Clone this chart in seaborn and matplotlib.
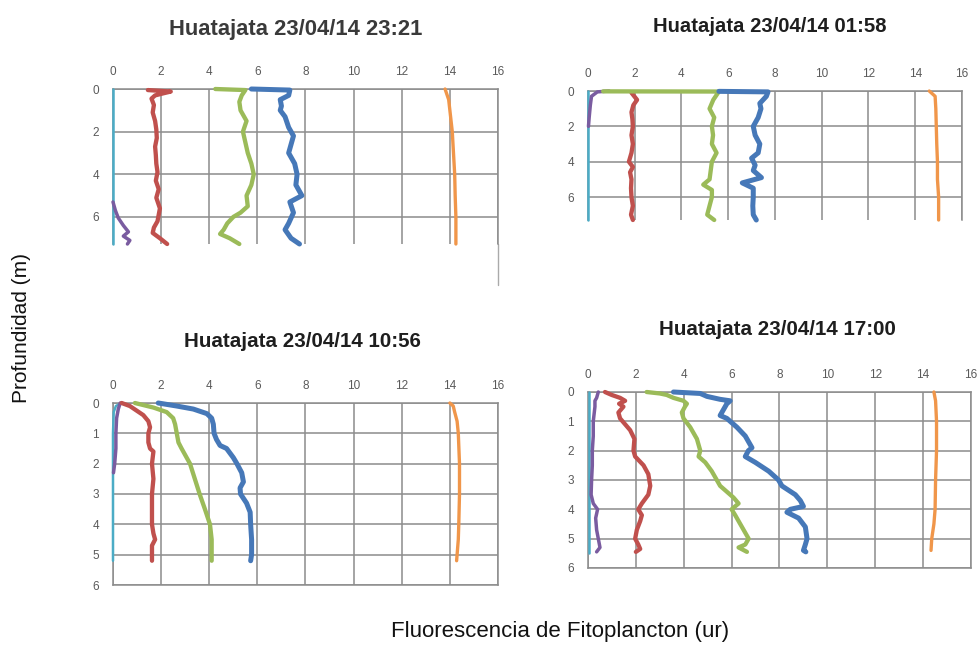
import matplotlib
matplotlib.use("Agg")
import matplotlib.pyplot as plt
import pandas as pd
import seaborn as sns

sns.set_theme(style="white")
plt.rcParams['font.family'] = ['Liberation Sans', 'DejaVu Sans']

# ---------------- Perfil 23/04/14 23:21 ----------------
p1_prof_celeste = [0.0, 7.27]
p1_celeste = [0.0, 0.0]
p1_prof_morado = [5.3, 5.7, 6.05, 6.4, 6.7, 6.9, 7.1, 7.27]
p1_morado = [0.0, 0.1, 0.22, 0.43, 0.64, 0.43, 0.7, 0.6]
p1_prof_rojo = [0.05, 0.12, 0.2, 0.3, 0.45, 0.75, 1.1, 1.5, 1.9, 2.3, 2.7, 3.1,
                3.5, 3.9, 4.3, 4.7, 5.1, 5.6, 6.2, 6.5, 6.75, 7.0, 7.27]
p1_rojo = [1.45, 2.4, 2.1, 1.75, 1.6, 1.7, 1.65, 1.75, 1.8, 1.82, 1.75, 1.78,
           1.8, 1.85, 1.78, 1.9, 1.8, 1.95, 1.85, 1.7, 1.65, 1.95, 2.25]
p1_prof_verde = [0.0, 0.05, 0.3, 0.6, 1.0, 1.5, 2.0, 2.5, 3.0, 3.5, 4.0, 4.5,
                 5.0, 5.5, 5.8, 6.0, 6.3, 6.6, 6.8, 7.0, 7.27]
p1_verde = [4.25, 5.5, 5.35, 5.25, 5.3, 5.55, 5.4, 5.5, 5.6, 5.75, 5.85, 5.75,
            5.55, 5.6, 5.3, 5.0, 4.75, 4.6, 4.45, 4.85, 5.25]
p1_prof_azul = [0.0, 0.05, 0.3, 0.5, 0.8, 1.0, 1.3, 1.8, 2.2, 2.6, 3.0, 3.5,
                4.0, 4.5, 5.0, 5.3, 5.8, 6.3, 6.6, 7.0, 7.27]
p1_azul = [5.75, 7.35, 7.3, 6.95, 7.0, 6.95, 7.15, 7.3, 7.5, 7.4, 7.3, 7.55,
           7.65, 7.6, 7.85, 7.35, 7.5, 7.3, 7.15, 7.4, 7.75]
p1_prof_naranja = [0.0, 0.5, 1.0, 2.0, 3.0, 4.0, 5.0, 6.0, 7.27]
p1_naranja = [13.8, 13.95, 14.0, 14.1, 14.15, 14.2, 14.22, 14.25, 14.25]

# ---------------- Perfil 23/04/14 01:58 ----------------
p2_prof_celeste = [0.0, 7.3]
p2_celeste = [0.0, 0.0]
p2_prof_morado = [0.0, 0.05, 0.3, 0.8, 1.5, 2.0]
p2_morado = [0.9, 0.4, 0.15, 0.1, 0.05, 0.02]
p2_prof_rojo = [0.1, 0.5, 0.8, 1.2, 1.6, 2.0, 2.5, 3.0, 3.5, 4.0, 4.3, 4.6,
                5.0, 5.5, 6.0, 6.5, 7.0, 7.3]
p2_rojo = [1.86, 2.1, 1.94, 1.86, 1.9, 1.92, 1.86, 1.92, 1.86, 1.75, 1.92, 1.8,
           1.86, 1.84, 1.86, 1.92, 1.84, 1.92]
p2_prof_verde = [0.02, 0.03, 0.5, 1.0, 1.5, 2.0, 2.5, 3.0, 3.5, 4.0, 4.5, 5.0,
                 5.3, 5.6, 6.0, 6.5, 7.0, 7.3]
p2_verde = [0.65, 5.6, 5.36, 5.2, 5.4, 5.3, 5.35, 5.3, 5.5, 5.3, 5.25, 5.2,
            4.93, 5.3, 5.3, 5.2, 5.1, 5.4]
p2_prof_azul = [0.02, 0.05, 0.3, 0.7, 1.0, 1.5, 2.0, 2.5, 3.0, 3.5, 3.8, 4.2,
                4.5, 4.9, 5.2, 5.5, 6.0, 6.5, 7.0, 7.3]
p2_azul = [5.6, 7.7, 7.63, 7.35, 7.4, 7.28, 7.07, 7.15, 7.35, 7.28, 7.0, 7.15,
           7.07, 7.42, 6.6, 7.07, 7.07, 7.05, 7.07, 7.2]
p2_prof_naranja = [0.0, 0.3, 1.0, 2.0, 3.0, 4.0, 5.0, 6.0, 7.3]
p2_naranja = [14.6, 14.85, 14.88, 14.9, 14.92, 14.95, 14.95, 15.0, 15.0]

# ---------------- Perfil 23/04/14 10:56 ----------------
p3_prof_celeste = [0.0, 0.1, 0.3, 1.0, 5.2]
p3_celeste = [0.35, 0.12, 0.03, 0.0, 0.0]
p3_prof_morado = [0.0, 0.2, 0.5, 1.0, 1.5, 2.0, 2.3]
p3_morado = [0.3, 0.22, 0.15, 0.12, 0.12, 0.07, 0.02]
p3_prof_rojo = [0.0, 0.1, 0.25, 0.4, 0.6, 0.8, 1.0, 1.3, 1.5, 1.6, 2.0, 2.5,
                3.0, 3.5, 4.0, 4.3, 4.5, 4.7, 5.0, 5.2]
p3_rojo = [0.36, 0.7, 0.98, 1.26, 1.47, 1.54, 1.47, 1.47, 1.54, 1.68, 1.62, 1.68,
           1.62, 1.62, 1.62, 1.68, 1.75, 1.62, 1.62, 1.62]
p3_prof_verde = [0.0, 0.15, 0.3, 0.5, 0.7, 1.0, 1.3, 1.5, 2.0, 2.5, 3.0, 3.5,
                 4.0, 4.5, 5.0, 5.2]
p3_verde = [0.91, 1.68, 2.23, 2.5, 2.58, 2.65, 2.72, 2.85, 3.2, 3.4, 3.6, 3.82,
            4.03, 4.1, 4.1, 4.1]
p3_prof_azul = [0.0, 0.1, 0.2, 0.35, 0.5, 0.7, 1.0, 1.2, 1.4, 1.5, 1.8, 2.0,
                2.3, 2.6, 2.8, 3.0, 3.3, 3.6, 4.0, 4.5, 5.0, 5.2]
p3_azul = [1.88, 2.65, 3.34, 3.9, 4.1, 4.17, 4.2, 4.3, 4.45, 4.72, 5.0, 5.15,
           5.35, 5.42, 5.28, 5.3, 5.55, 5.7, 5.72, 5.76, 5.76, 5.72]
p3_prof_naranja = [0.0, 0.1, 0.3, 0.6, 1.0, 2.0, 3.0, 4.0, 4.5, 5.0, 5.2]
p3_naranja = [14.0, 14.14, 14.2, 14.3, 14.35, 14.4, 14.4, 14.37, 14.35, 14.3, 14.28]

# ---------------- Perfil 23/04/14 17:00 ----------------
p4_prof_celeste = [0.0, 5.5]
p4_celeste = [0.04, 0.04]
p4_prof_morado = [0.0, 0.2, 0.3, 0.5, 1.0, 1.5, 2.0, 2.5, 3.0, 3.5, 3.8, 4.0,
                  4.3, 4.7, 5.0, 5.3, 5.45]
p4_morado = [0.43, 0.36, 0.29, 0.29, 0.22, 0.22, 0.18, 0.18, 0.15, 0.13, 0.22, 0.4,
             0.32, 0.36, 0.43, 0.5, 0.36]
p4_prof_rojo = [0.0, 0.1, 0.2, 0.3, 0.4, 0.5, 0.7, 0.9, 1.1, 1.3, 1.6, 2.0, 2.2,
                2.5, 2.8, 3.2, 3.5, 3.8, 4.0, 4.2, 4.4, 4.7, 5.0, 5.2, 5.35, 5.45]
p4_rojo = [0.71, 0.99, 1.34, 1.55, 1.3, 1.48, 1.27, 1.34, 1.55, 1.76, 1.94, 1.9, 1.97,
           2.32, 2.52, 2.6, 2.52, 2.25, 2.1, 2.25, 2.18, 2.04, 1.97, 2.1, 2.18, 2.0]
p4_prof_verde = [0.0, 0.05, 0.1, 0.2, 0.3, 0.4, 0.5, 0.7, 0.9, 1.2, 1.6, 2.0, 2.2,
                 2.4, 2.7, 3.0, 3.2, 3.4, 3.6, 3.8, 4.0, 4.2, 4.6, 5.0, 5.2, 5.3, 5.45]
p4_verde = [2.45, 3.0, 3.29, 3.57, 3.99, 4.13, 4.05, 3.92, 3.99, 4.27, 4.55, 4.69, 4.62,
            4.9, 5.17, 5.38, 5.52, 5.8, 6.08, 6.29, 6.0, 6.15, 6.43, 6.71, 6.57, 6.29, 6.64]
p4_prof_azul = [0.0, 0.05, 0.15, 0.25, 0.3, 0.4, 0.6, 0.8, 0.9, 1.2, 1.5, 1.9, 2.0,
                2.2, 2.4, 2.7, 3.0, 3.2, 3.5, 3.7, 3.9, 4.0, 4.1, 4.3, 4.6, 5.0,
                5.2, 5.4, 5.45]
p4_azul = [3.57, 4.69, 4.97, 5.52, 5.94, 5.8, 5.66, 5.52, 5.8, 6.22, 6.57, 6.85, 6.7,
           6.57, 6.99, 7.55, 7.96, 8.1, 8.66, 8.87, 9.0, 8.45, 8.31, 8.8, 9.08, 9.15,
           9.08, 9.0, 9.1]
p4_prof_naranja = [0.0, 0.3, 1.0, 2.0, 3.0, 4.0, 4.5, 5.0, 5.4]
p4_naranja = [14.45, 14.52, 14.56, 14.56, 14.52, 14.5, 14.45, 14.36, 14.33]

titulos = ["Huatajata 23/04/14 23:21", "Huatajata 23/04/14 01:58",
           "Huatajata 23/04/14 10:56", "Huatajata 23/04/14 17:00"]
marcas_x = [0, 2, 4, 6, 8, 10, 12, 14, 16]
marcas_y_noche = [0, 2, 4, 6]
marcas_y_dia = [0, 1, 2, 3, 4, 5, 6]

colores = {"celeste": "#4BACC6", "morado": "#7A5CA0", "rojo": "#C0504D",
           "verde": "#9BBB59", "azul": "#4678B8", "naranja": "#F0964A"}
grosor = {"celeste": 1.8, "morado": 2.5, "rojo": 3.1, "verde": 3.1,
          "azul": 3.6, "naranja": 2.4}
orden = ["celeste", "morado", "rojo", "verde", "azul", "naranja"]


def tabla(perfiles):
    partes = [pd.DataFrame({"prof": p, "fluor": v, "serie": s})
              for s, (p, v) in perfiles.items()]
    return pd.concat(partes, ignore_index=True)


datos = [
    tabla({"celeste": (p1_prof_celeste, p1_celeste), "morado": (p1_prof_morado, p1_morado),
           "rojo": (p1_prof_rojo, p1_rojo), "verde": (p1_prof_verde, p1_verde),
           "azul": (p1_prof_azul, p1_azul), "naranja": (p1_prof_naranja, p1_naranja)}),
    tabla({"celeste": (p2_prof_celeste, p2_celeste), "morado": (p2_prof_morado, p2_morado),
           "rojo": (p2_prof_rojo, p2_rojo), "verde": (p2_prof_verde, p2_verde),
           "azul": (p2_prof_azul, p2_azul), "naranja": (p2_prof_naranja, p2_naranja)}),
    tabla({"celeste": (p3_prof_celeste, p3_celeste), "morado": (p3_prof_morado, p3_morado),
           "rojo": (p3_prof_rojo, p3_rojo), "verde": (p3_prof_verde, p3_verde),
           "azul": (p3_prof_azul, p3_azul), "naranja": (p3_prof_naranja, p3_naranja)}),
    tabla({"celeste": (p4_prof_celeste, p4_celeste), "morado": (p4_prof_morado, p4_morado),
           "rojo": (p4_prof_rojo, p4_rojo), "verde": (p4_prof_verde, p4_verde),
           "azul": (p4_prof_azul, p4_azul), "naranja": (p4_prof_naranja, p4_naranja)}),
]

W, H = 979, 655
fig = plt.figure(figsize=(W / 100, H / 100), dpi=100)
fig.patch.set_facecolor("white")

# caja de cada panel en pixeles (izq, arriba, der, abajo), fondo del eje y
cajas = [(113, 89, 498, 244), (588, 91, 962, 220), (113, 403, 498, 585), (588, 392, 971, 568)]
fondos = [7.27, 7.3, 6.0, 6.0]
marcas_y = [marcas_y_noche, marcas_y_noche, marcas_y_dia, marcas_y_dia]
abiertos = [True, True, False, False]
pos_titulo = [(296, 30), (770, 27), (302, 341), (777, 330)]
tam_titulo = [15.8, 14.6, 14.8, 14.8]
col_titulo = ["#3a3a3a", "#1e1e1e", "#1e1e1e", "#1e1e1e"]
gris = "#8c8c8c"

for i in range(4):
    l, t, r, b = cajas[i]
    ax = fig.add_axes([l / W, 1 - b / H, (r - l) / W, (b - t) / H])
    df = datos[i]
    for s in orden:
        sub = df[df["serie"] == s]
        sns.lineplot(data=sub, x="fluor", y="prof", sort=False, estimator=None,
                     color=colores[s], lw=grosor[s], ax=ax, clip_on=False,
                     solid_joinstyle="round", solid_capstyle="round", zorder=3)
    ax.set_xlim(0, 16)
    ax.set_ylim(fondos[i], 0)
    ax.set_xticks(marcas_x)
    ax.set_yticks(marcas_y[i])
    ax.xaxis.tick_top()
    ax.set_xlabel("")
    ax.set_ylabel("")
    ax.grid(True, color=gris, lw=1.1)
    ax.set_axisbelow(True)
    ax.tick_params(length=0, labelsize=8.5, labelcolor="#5a5a5a")
    ax.tick_params(axis="x", pad=8)
    ax.tick_params(axis="y", pad=10)
    for lado, sp in ax.spines.items():
        sp.set_color(gris)
        sp.set_linewidth(1.1)
        sp.set_visible(True)
    if abiertos[i]:
        ax.spines["bottom"].set_visible(False)
    if i == 0:
        ax.axvline(16, ymin=-(285 - 244) / (244 - 89), ymax=0, color="#aaaaaa",
                   lw=1.0, clip_on=False)
    tx, ty = pos_titulo[i]
    fig.text(tx / W, 1 - ty / H, titulos[i], ha="center", va="center",
             fontsize=tam_titulo[i], fontweight="bold", color=col_titulo[i])

fig.text(22 / W, 1 - 328 / H, "Profundidad (m)", rotation=90, ha="center",
         va="center", fontsize=15, color="#111111")
fig.text(560 / W, 1 - 632 / H, "Fluorescencia de Fitoplancton (ur)", ha="center",
         va="center", fontsize=16, color="#111111")

fig.savefig("out.png", dpi=100, facecolor="white")
